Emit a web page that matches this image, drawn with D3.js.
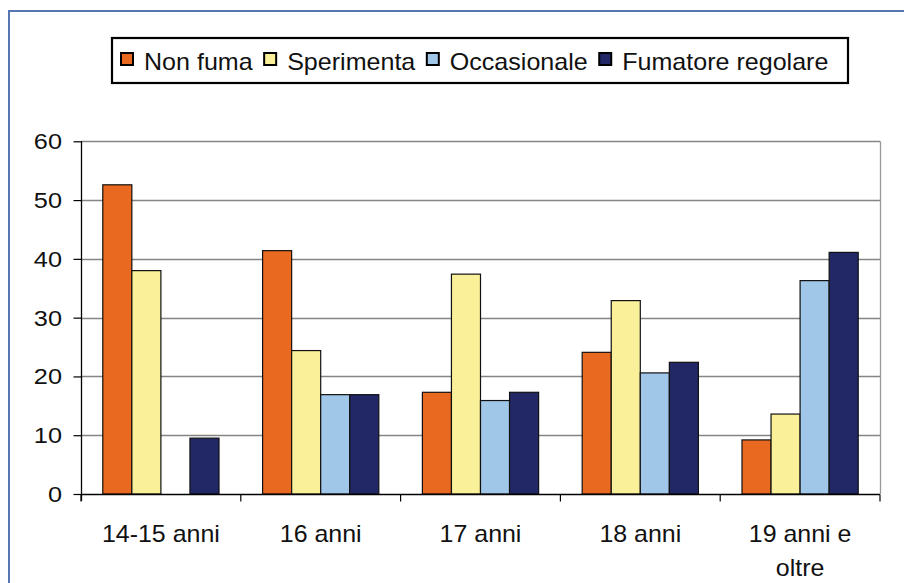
<!DOCTYPE html>
<html><head><meta charset="utf-8">
<script src="https://cdn.jsdelivr.net/npm/d3@7"></script>
<style>html,body{margin:0;padding:0;background:#fff;}svg{display:block;font-family:"Liberation Sans",Arial,sans-serif;}</style>
</head><body>
<svg id="c" width="904" height="583"></svg>
<script>
const categories = ["14-15 anni", "16 anni", "17 anni", "18 anni", "19 anni e oltre"];
const seriesNames = ["Non fuma", "Sperimenta", "Occasionale", "Fumatore regolare"];
const nonFuma = [52.6, 41.4, 17.3, 24.1, 9.2];
const sperimenta = [38.0, 24.4, 37.4, 32.9, 13.6];
const occasionale = [null, 16.9, 15.9, 20.6, 36.3];
const fumatoreRegolare = [9.5, 16.9, 17.3, 22.4, 41.1];
const yTicks = [0, 10, 20, 30, 40, 50, 60];
const colors = ["#EA6920", "#FAF09A", "#A0C6E8", "#222766"];

const seriesValues = [nonFuma, sperimenta, occasionale, fumatoreRegolare];
const svg = d3.select("#c");
const L = 81, R = 880, T = 141.3, B = 494;

// outer border
svg.append("rect").attr("x", 9).attr("y", 11).attr("width", 920).attr("height", 600)
  .attr("fill", "none").attr("stroke", "#5777B2").attr("stroke-width", 2);

const x0 = d3.scaleBand().domain(categories).range([L, R]).paddingInner(0).paddingOuter(0);
const x1 = d3.scaleBand().domain(seriesNames).range([0, x0.bandwidth()]).paddingInner(0).paddingOuter(0.75);
const y = d3.scaleLinear().domain([0, 60]).range([B, T]);

// gridlines
svg.append("g").selectAll("line").data(yTicks.filter(d => d > 0)).join("line")
  .attr("x1", L).attr("x2", R).attr("y1", d => Math.round(y(d)) + 0.5).attr("y2", d => Math.round(y(d)) + 0.5)
  .attr("stroke", "#858585").attr("stroke-width", 1.3);
// right plot border
svg.append("line").attr("x1", R + 0.5).attr("x2", R + 0.5).attr("y1", y(60)).attr("y2", B)
  .attr("stroke", "#999").attr("stroke-width", 1.3);

// bars
const rows = [];
categories.forEach((c, i) => seriesNames.forEach((s, j) => {
  const v = seriesValues[j][i];
  if (v != null) rows.push({c, s, v, j});
}));
svg.append("g").selectAll("rect").data(rows).join("rect")
  .attr("x", d => x0(d.c) + x1(d.s))
  .attr("y", d => y(d.v))
  .attr("width", x1.bandwidth())
  .attr("height", d => B - y(d.v))
  .attr("fill", d => colors[d.j])
  .attr("stroke", "#111").attr("stroke-width", 1.2);

// stretched text helper
function stext(parent, x, yy, str, size, sx, anchor) {
  return parent.append("text")
    .attr("transform", `translate(${x},${yy}) scale(${sx},1)`)
    .attr("text-anchor", anchor || "start")
    .attr("font-size", size).attr("fill", "#111").text(str);
}

// y axis
const yAxis = d3.axisLeft(y).tickValues(yTicks).tickSize(8).tickFormat("");
const gy = svg.append("g").attr("transform", `translate(${L + 0.5},0)`).call(yAxis);
gy.select(".domain").attr("stroke", "#000").attr("stroke-width", 1.3).attr("d", `M0,${y(60)}V${B + 7}`);
gy.selectAll(".tick line").attr("stroke", "#000").attr("stroke-width", 1.2);
yTicks.forEach(v => stext(svg, 62, y(v) + 8, String(v), 22, 1.15, "end"));

// x axis
const gx = svg.append("g").attr("transform", `translate(0,${B + 0.5})`);
gx.append("line").attr("x1", L).attr("x2", R).attr("stroke", "#000").attr("stroke-width", 1.3);
const bounds = categories.map(c => x0(c)).concat([R]);
gx.selectAll("line.t").data(bounds).join("line").attr("class", "t")
  .attr("x1", d => d).attr("x2", d => d).attr("y1", 0).attr("y2", 7)
  .attr("stroke", "#000").attr("stroke-width", 1.2);
const labelLines = c => c === "19 anni e oltre" ? ["19 anni e", "oltre"] : [c];
categories.forEach(c => {
  labelLines(c).forEach((ln, k) => {
    stext(gx, x0(c) + x0.bandwidth() / 2, 47 + k * 34, ln, 24, 1.04, "middle");
  });
});

// legend
const lg = svg.append("g");
const lx = 112, ly = 38, lh = 45;
const lsx = 1.09;
let cx = lx + 9;
seriesNames.forEach((s, j) => {
  const g = lg.append("g");
  g.append("rect").attr("x", cx).attr("y", 53).attr("width", 12).attr("height", 12)
    .attr("fill", colors[j]).attr("stroke", "#000").attr("stroke-width", 2);
  const t = stext(g, cx + 23, 69.5, s, 23, lsx);
  cx = cx + 23 + t.node().getComputedTextLength() * lsx + 11.5;
});
lg.insert("rect", ":first-child").attr("x", lx).attr("y", ly).attr("width", 848 - lx).attr("height", lh)
  .attr("fill", "#fff").attr("stroke", "#000").attr("stroke-width", 2.2);
</script>
</body></html>
